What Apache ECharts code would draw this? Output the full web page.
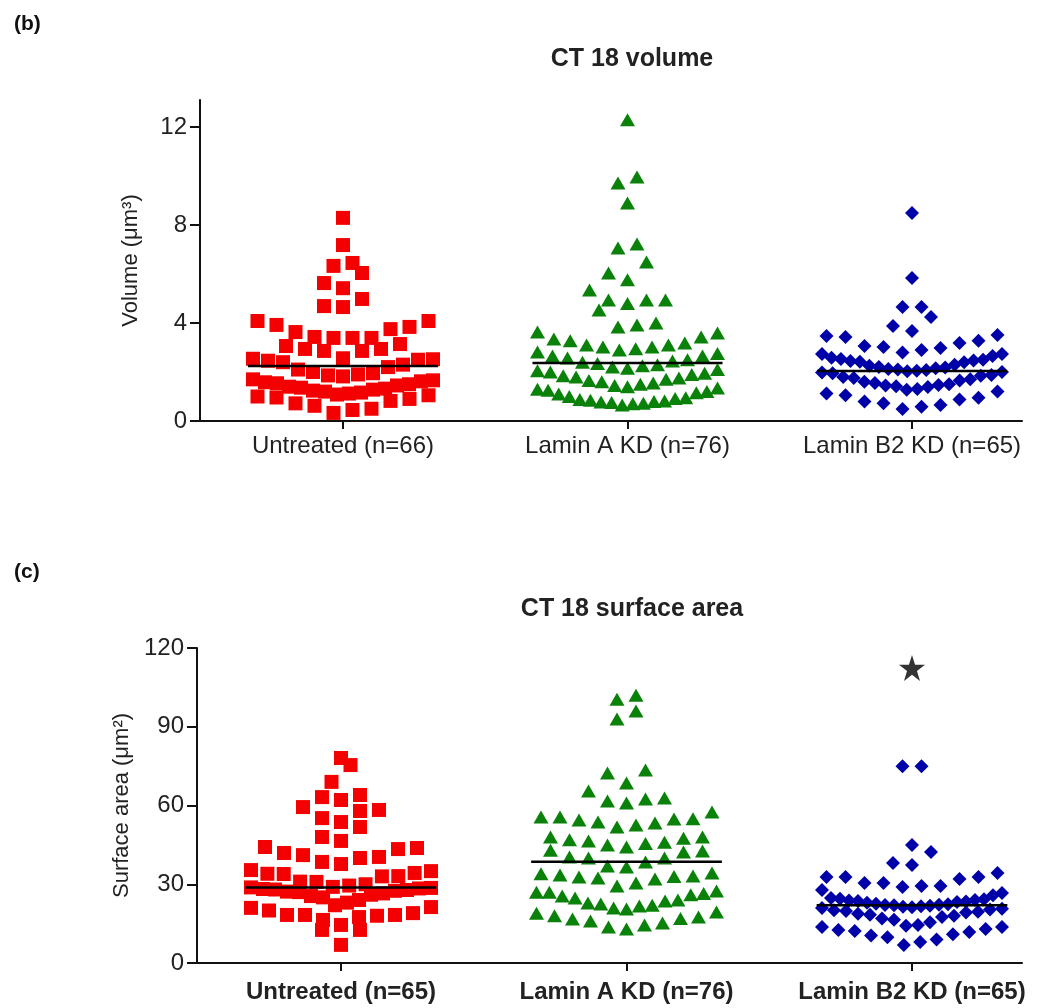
<!DOCTYPE html>
<html><head><meta charset="utf-8">
<script src="https://cdn.jsdelivr.net/npm/echarts@6/dist/echarts.min.js"></script>
<style>html,body{margin:0;padding:0;background:#fff}#c{width:1049px;height:1008px}</style>
</head><body><div id="c"></div>
<script>
// ---------- DATA ----------
const categoriesVolume = ['Untreated (n=66)', 'Lamin A KD (n=76)', 'Lamin B2 KD (n=65)'];
const categoriesSurface = ['Untreated (n=65)', 'Lamin A KD (n=76)', 'Lamin B2 KD (n=65)'];

const volumeUntreated = [8.29, 7.18, 6.45, 6.33, 6.04, 5.63, 5.42, 4.98, 4.69, 4.65,
  4.08, 4.08, 3.92, 3.84, 3.75, 3.63,
  3.43, 3.39, 3.39, 3.39, 3.14, 3.06, 2.94, 2.94, 2.86, 2.86,
  2.56, 2.54, 2.52, 2.5, 2.46, 2.4, 2.3, 2.2, 2.1, 2.0, 1.95, 1.9, 1.86, 1.82,
  1.7, 1.66, 1.62, 1.58, 1.54, 1.5, 1.45, 1.4, 1.36, 1.32, 1.28, 1.24, 1.2, 1.16, 1.12, 1.08, 1.05,
  1.0, 0.96, 0.9, 0.82, 0.72, 0.62, 0.5, 0.45, 0.33];
const volumeLaminA = [12.29, 9.96, 9.71, 8.9, 7.22, 7.06, 6.49, 6.04, 5.76, 5.35, 4.94, 4.94, 4.94, 4.8, 4.53, 4.0,
  3.92, 3.84, 3.63, 3.59, 3.43, 3.35, 3.27, 3.18, 3.1, 3.1,
  3.02, 3.02, 2.95, 2.9, 2.82, 2.75, 2.65, 2.65, 2.57, 2.5, 2.45, 2.4,
  2.35, 2.3, 2.25, 2.2, 2.15, 2.1, 2.05, 2.0, 1.95, 1.9, 1.85, 1.8, 1.75,
  1.7, 1.65, 1.6, 1.55, 1.5, 1.45, 1.4, 1.35, 1.3, 1.25, 1.2, 1.15, 1.1,
  1.0, 0.95, 0.92, 0.88, 0.85, 0.82, 0.8, 0.78, 0.75, 0.72, 0.7, 0.65];
const volumeLaminB2 = [8.49, 5.84, 4.65, 4.65, 4.24, 3.88,
  3.67, 3.51, 3.47, 3.43, 3.27, 3.18, 3.06, 3.02,
  2.98, 2.9, 2.8, 2.73, 2.73, 2.65, 2.58, 2.53, 2.5, 2.47, 2.45, 2.42, 2.4,
  2.3, 2.25, 2.2, 2.18, 2.15, 2.12, 2.1, 2.08, 2.05, 2.03, 2.0, 1.98, 1.95,
  1.88, 1.85, 1.8, 1.75, 1.7, 1.65, 1.6, 1.55, 1.5, 1.47, 1.45, 1.42, 1.39,
  1.31, 1.28, 1.2, 1.12, 1.05, 0.95, 0.88, 0.8, 0.72, 0.65, 0.58, 0.49];

const surfaceUntreated = [78.1, 75.4, 69.0, 64.0, 63.2, 62.1, 59.4, 58.3, 57.9, 55.2, 53.7, 51.8, 48.0, 46.5,
  44.2, 43.8, 43.4, 41.9, 41.1, 40.4, 40.0, 38.5, 37.7, 35.4, 35.0, 34.3, 34.0, 33.9, 33.1, 33.0,
  31.0, 30.9, 30.0, 29.5, 29.0, 28.8, 28.6, 28.4, 28.2, 28.0, 27.8, 27.5, 27.2, 27.0, 26.5, 26.0,
  25.5, 25.0, 24.0, 23.0, 22.0, 21.0, 20.0, 19.0, 18.0,
  21.3, 18.3, 18.3, 18.3, 17.5, 16.4, 14.5, 12.6, 12.6, 6.9];
const surfaceLaminA = [102, 100.5, 96, 93,
  73.5, 72.4, 68.6, 65.5, 62.9, 62.5, 61.7, 61.0,
  57.5, 55.6, 55.6, 55.0, 54.9, 54.5, 53.7, 53.3, 52.6, 51.8,
  48.0, 48.0, 47.5, 47.0, 46.5, 46.0, 45.5, 45.0, 44.2, 43.0, 42.7, 42.3,
  40.4, 40.0, 40.0, 38.5, 37.0, 36.6,
  34.3, 34.0, 33.5, 33.1, 33.0, 32.8, 32.4, 32.0, 30.5, 29.3, 27.4,
  27.0, 27.0, 26.5, 26.0, 25.5, 24.8, 24.0, 23.6, 22.9, 22.5, 22.0, 21.7, 21.0, 20.6,
  19.4, 19.0, 18.0, 17.5, 17.0, 16.8, 16.0, 15.2, 14.5, 13.7, 13.0];
const surfaceLaminB2 = [75.0, 75.0, 45.0, 42.3, 38.1, 37.3,
  34.3, 32.8, 32.8, 32.8, 32.0, 30.5, 30.5, 29.3, 29.3,
  29.0, 27.8, 26.7, 25.8, 24.8, 24.5, 24.3, 24.0, 23.8, 23.6, 23.4, 23.2, 23.0,
  22.6, 22.4, 22.2, 22.1, 22.0, 21.8, 21.6, 21.4, 21.2, 21.0, 20.7, 20.4, 20.1, 19.8, 19.5, 19.2,
  18.8, 18.4, 18.0, 17.5, 17.0, 16.5, 15.5, 14.5,
  14.2, 13.7, 13.7, 13.0, 12.6, 12.2, 11.8, 11.0, 10.5, 9.8, 9.0, 8.0, 6.9];

const volumeCentralLines = [2.24, 2.37, 2.04];
const surfaceCentralLines = [28.8, 38.6, 22.0];
const surfaceStar = [2, 112.4];
const volumeTicks = [0, 4, 8, 12];
const surfaceTicks = [0, 30, 60, 90, 120];

// ---------- LAYOUT ----------
const FONT = "'Liberation Sans', Arial, sans-serif";
const G1 = { left: 200, top: 100, width: 822, height: 321, xMin: -0.5026, xMax: 2.3866, yMax: 13.1 };
const G2 = { left: 197, top: 648, width: 825, height: 315, xMin: -0.5044, xMax: 2.3853, yMax: 120 };

function swarm(values, cat, g) {
  const pxY = g.height / g.yMax;
  const pxX = g.width / (g.xMax - g.xMin);
  const binPx = 18, stepPx = 19, maxHalf = 90;
  const s = values.slice().sort((a, b) => a - b);
  const out = [];
  let i = 0;
  while (i < s.length) {
    let j = i;
    while (j < s.length && (s[j] - s[i]) * pxY < binPx) j++;
    const bin = s.slice(i, j);
    const n = bin.length;
    const step = n > 1 ? Math.min(stepPx, 2 * maxHalf / (n - 1)) : 0;
    const order = [];
    if (n % 2 === 1) {
      order.push(0);
      for (let d = 1; d <= (n - 1) / 2; d++) { if (d % 2) order.push(-d, d); else order.push(d, -d); }
    } else {
      for (let d = 0; d < n / 2; d++) { const o = d + 0.5; if (d % 2 === 0) order.push(-o, o); else order.push(o, -o); }
    }
    bin.forEach((v, k) => out.push([cat + order[k] * step / pxX, v]));
    i = j;
  }
  return out;
}

function xAxisFor(g, gi, cats, bold, margin) {
  return {
    type: 'value', gridIndex: gi, min: g.xMin, max: g.xMax,
    axisLine: { show: true, onZero: false, lineStyle: { color: '#111', width: 2 } },
    axisTick: { show: true, customValues: [0, 1, 2], length: 8, lineStyle: { color: '#111', width: 2 } },
    axisLabel: { customValues: [0, 1, 2], formatter: v => cats[Math.round(v)], margin: margin,
      color: '#222', fontSize: 24, fontFamily: FONT, fontWeight: bold ? 'bold' : 'normal' },
    splitLine: { show: false }
  };
}
function yAxisFor(g, gi, ticks, name) {
  return {
    type: 'value', gridIndex: gi, min: 0, max: g.yMax,
    name: name, nameLocation: 'middle', nameGap: 58, nameRotate: 90,
    nameTextStyle: { color: '#222', fontSize: 22, fontFamily: FONT },
    axisLine: { show: true, onZero: false, lineStyle: { color: '#111', width: 2 } },
    axisTick: { show: true, customValues: ticks, length: 10, lineStyle: { color: '#111', width: 2 } },
    axisLabel: { customValues: ticks, margin: 13, color: '#222', fontSize: 24, fontFamily: FONT },
    splitLine: { show: false }
  };
}

const groupsV = [volumeUntreated, volumeLaminA, volumeLaminB2];
const groupsS = [surfaceUntreated, surfaceLaminA, surfaceLaminB2];
const colors = ['#f50000', '#0a820a', '#0000a8'];
const symbols = ['rect', 'triangle', 'diamond'];
const sizes = [[14, 14], [15, 13], [14, 14]];

const series = [];
[[groupsV, G1, 0, volumeCentralLines], [groupsS, G2, 1, surfaceCentralLines]].forEach(([groups, g, gi, lines]) => {
  groups.forEach((vals, c) => {
    series.push({
      type: 'scatter', xAxisIndex: gi, yAxisIndex: gi,
      data: swarm(vals, c, g), symbol: symbols[c], symbolSize: sizes[c],
      itemStyle: { color: colors[c], opacity: 1 }, z: 2, silent: true
    });
  });
  lines.forEach((m, c) => {
    series.push({
      type: 'line', xAxisIndex: gi, yAxisIndex: gi, data: [[c - 0.334, m], [c + 0.334, m]],
      symbol: 'none', lineStyle: { color: '#000', width: 2.5 }, z: 5, silent: true
    });
  });
});
series.push({
  type: 'scatter', xAxisIndex: 1, yAxisIndex: 1, data: [surfaceStar],
  symbol: 'path://M50,0 L61.2,34.5 L97.6,34.5 L68.2,55.9 L79.4,90.5 L50,69.1 L20.6,90.5 L31.8,55.9 L2.4,34.5 L38.8,34.5 Z',
  symbolSize: 26, itemStyle: { color: '#000' }, z: 6, silent: true
});

const chart = echarts.init(document.getElementById('c'), null, { renderer: 'canvas' });
chart.setOption({
  animation: false,
  backgroundColor: '#fff',
  title: [
    { text: '(b)', left: 9, top: 9, textStyle: { fontSize: 21, fontWeight: 'bold', fontFamily: FONT, color: '#111' } },
    { text: 'CT 18 volume', left: 627, top: 42, textAlign: 'center', textStyle: { fontSize: 25, fontWeight: 'bold', fontFamily: FONT, color: '#222' } },
    { text: '(c)', left: 9, top: 557, textStyle: { fontSize: 21, fontWeight: 'bold', fontFamily: FONT, color: '#111' } },
    { text: 'CT 18 surface area', left: 627, top: 592, textAlign: 'center', textStyle: { fontSize: 25, fontWeight: 'bold', fontFamily: FONT, color: '#222' } }
  ],
  grid: [
    { left: G1.left, top: G1.top, width: G1.width, height: G1.height },
    { left: G2.left, top: G2.top, width: G2.width, height: G2.height }
  ],
  xAxis: [xAxisFor(G1, 0, categoriesVolume, false, 13), xAxisFor(G2, 1, categoriesSurface, true, 17)],
  yAxis: [yAxisFor(G1, 0, volumeTicks, 'Volume (μm³)'), yAxisFor(G2, 1, surfaceTicks, 'Surface area (μm²)')],
  series: series
});
</script>
</body></html>
